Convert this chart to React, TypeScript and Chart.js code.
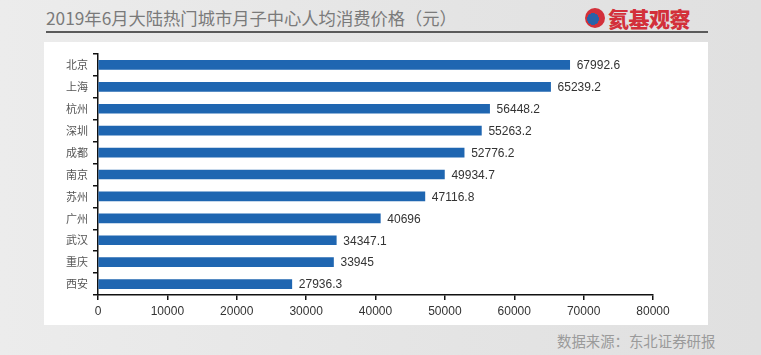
import React, { useEffect, useRef } from "react";
import { Chart, registerables } from "chart.js";

Chart.register(...registerables);

const cities = ["北京", "上海", "杭州", "深圳", "成都", "南京", "苏州", "广州", "武汉", "重庆", "西安"];
const prices = [67992.6, 65239.2, 56448.2, 55263.2, 52776.2, 49934.7, 47116.8, 40696, 34347.1, 33945, 27936.3];
const priceLabels = ["67992.6", "65239.2", "56448.2", "55263.2", "52776.2", "49934.7", "47116.8", "40696", "34347.1", "33945", "27936.3"];
const xMin = 0;
const xMax = 80000;
const xStep = 10000;

const title = "2019年6月大陆热门城市月子中心人均消费价格（元）";
const source = "数据来源：东北证券研报";
const brand = "氦基观察";

const valueLabelPlugin = {
  id: "valueLabels",
  afterDatasetsDraw(chart: any) {
    const ctx = chart.ctx;
    const meta = chart.getDatasetMeta(0);
    ctx.save();
    ctx.font = "12px 'Liberation Sans', Arial, sans-serif";
    ctx.fillStyle = "#333";
    ctx.textAlign = "left";
    ctx.textBaseline = "middle";
    meta.data.forEach((bar: any, i: number) => {
      ctx.fillText(priceLabels[i], bar.x + 7, bar.y + 1);
    });
    ctx.restore();
  },
};

function BarChart() {
  const ref = useRef<HTMLCanvasElement>(null);
  useEffect(() => {
    if (!ref.current) return;
    const chart = new Chart(ref.current, {
      type: "bar",
      data: {
        labels: cities,
        datasets: [
          {
            data: prices,
            backgroundColor: "#1f66b1",
            barThickness: 9,
          },
        ],
      },
      options: {
        indexAxis: "y",
        animation: false,
        responsive: false,
        maintainAspectRatio: false,
        layout: { padding: { top: 12, right: 55, left: 0, bottom: 0 } },
        plugins: { legend: { display: false }, tooltip: { enabled: false } },
        scales: {
          x: {
            min: xMin,
            max: xMax,
            afterFit: (s: any) => {
              s.height = 30;
            },
            ticks: {
              stepSize: xStep,
              color: "#333",
              font: { family: "'Liberation Sans', Arial, sans-serif", size: 12 },
              padding: 4,
              callback: (v: any) => String(v),
            },
            grid: { drawOnChartArea: false, drawTicks: true, tickLength: 5, color: "#111", lineWidth: 1.5 },
            border: { color: "#111", width: 1.5 },
          },
          y: {
            afterFit: (s: any) => {
              s.width = 54;
            },
            ticks: {
              color: "#555",
              font: { family: "'Noto Sans CJK SC', sans-serif", size: 11 },
              padding: 5,
            },
            grid: { drawOnChartArea: false, drawTicks: true, tickLength: 5, offset: true, color: "#111", lineWidth: 1.5 },
            border: { color: "#111", width: 1.5 },
          },
        },
      },
      plugins: [valueLabelPlugin],
    });
    return () => chart.destroy();
  }, []);
  return <canvas ref={ref} width={664} height={283} style={{ display: "block" }} />;
}

export default function App() {
  return (
    <div
      style={{
        position: "fixed",
        left: 0,
        top: 0,
        width: 761,
        height: 355,
        overflow: "hidden",
        background: "linear-gradient(90deg, #ececec 0%, #e4e4e4 60%, #e0e0e0 100%)",
        fontFamily: "'Noto Sans CJK SC', sans-serif",
      }}
    >
      <div
        style={{
          position: "absolute",
          left: 46,
          top: 6,
          fontSize: 17.3,
          color: "#7a7a7a",
          lineHeight: "24px",
          whiteSpace: "nowrap",
        }}
      >
        {title}
      </div>
      <div style={{ position: "absolute", left: 585, top: 6, display: "flex", alignItems: "center" }}>
        <div
          style={{
            width: 20,
            height: 20,
            borderRadius: "50%",
            background: "radial-gradient(circle at 40% 55%, #2a62a8 0 35%, #d3303a 36% 100%)",
            marginRight: 3,
          }}
        />
        <div style={{ color: "#d3303a", fontWeight: 900, fontSize: 21, lineHeight: "24px", letterSpacing: -0.5 }}>
          {brand}
        </div>
      </div>
      <div style={{ position: "absolute", left: 46, top: 31, width: 662, height: 2, background: "#5a5a5a" }} />
      <div style={{ position: "absolute", left: 44, top: 42, width: 664, height: 283, background: "#fff" }}>
        <BarChart />
      </div>
      <div
        style={{
          position: "absolute",
          left: 557,
          top: 330,
          fontSize: 14.4,
          color: "#9a9a9a",
          lineHeight: "22px",
          whiteSpace: "nowrap",
        }}
      >
        {source}
      </div>
    </div>
  );
}
